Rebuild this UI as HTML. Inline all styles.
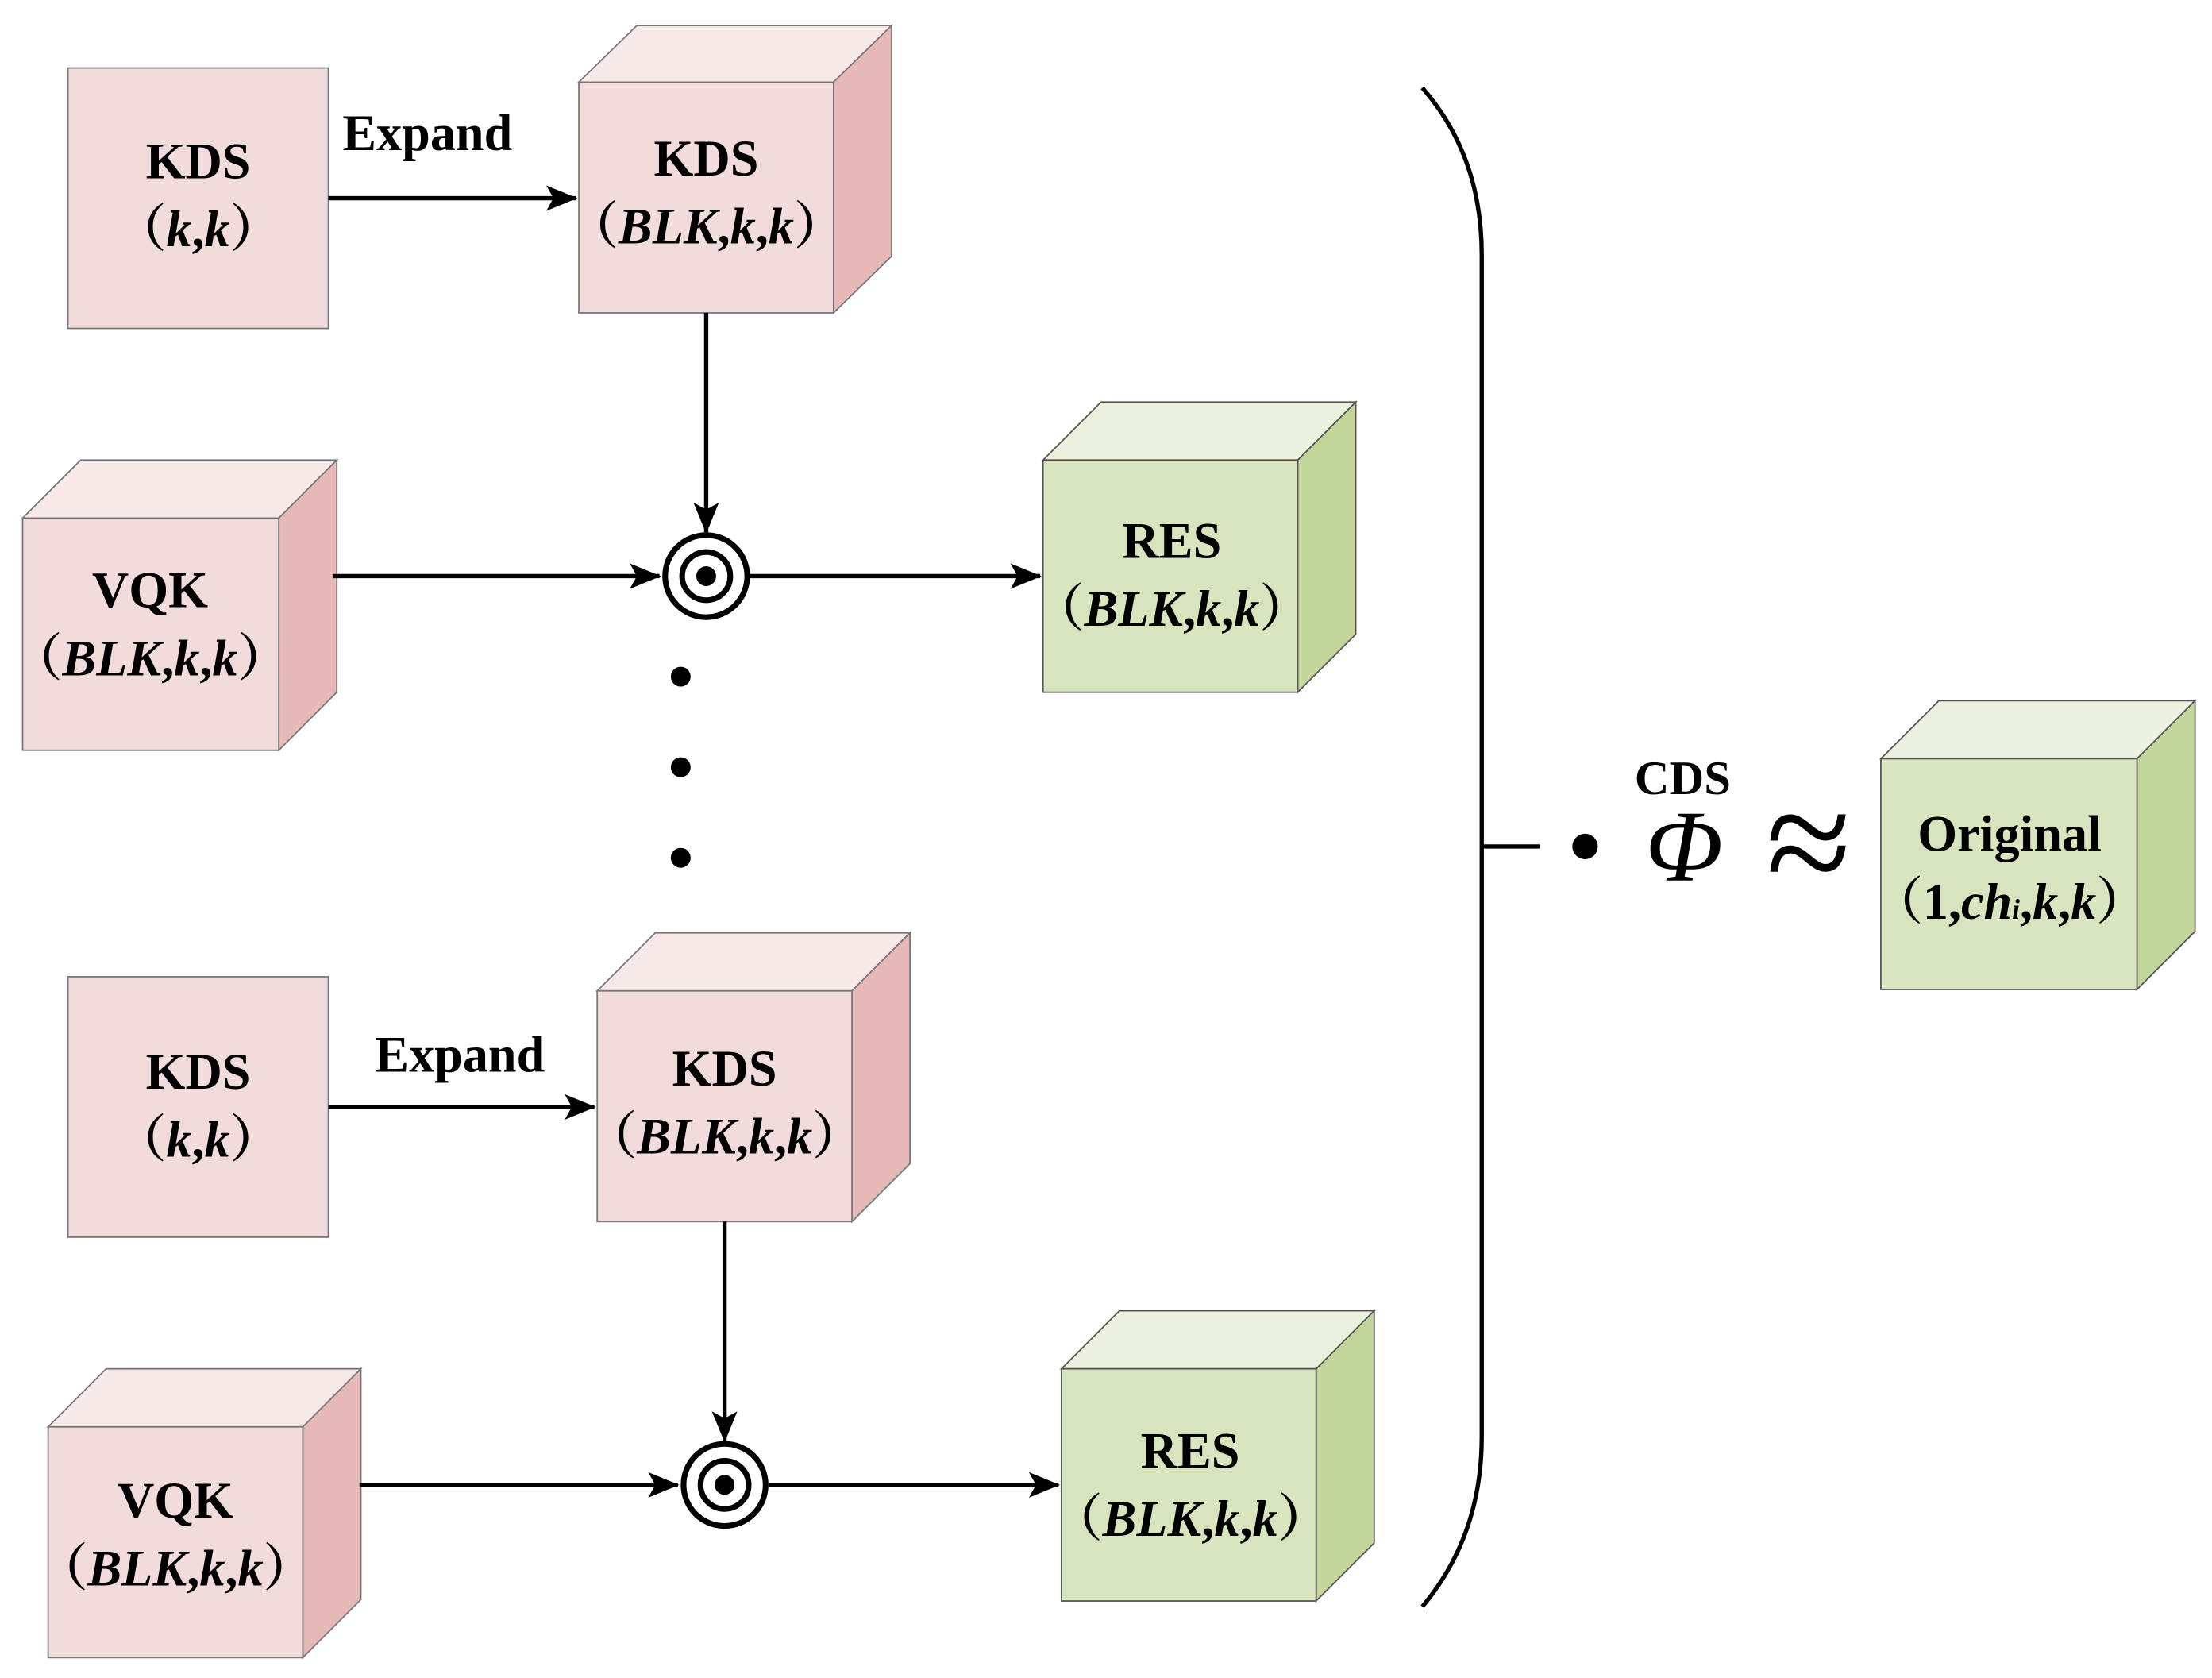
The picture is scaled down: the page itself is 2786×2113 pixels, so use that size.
<!DOCTYPE html>
<html><head><meta charset="utf-8"><style>
html,body{margin:0;padding:0;background:#fff;}
svg{display:block;}
text{font-family:"Liberation Serif","Noto Serif CJK SC",serif;font-weight:bold;font-size:36px;fill:#000;text-anchor:middle;}
.p{fill:#f2dcdb;stroke:#777;stroke-width:1}
.pt{fill:#f7e9e8;stroke:#777;stroke-width:1}
.ps{fill:#e6b8b7;stroke:#777;stroke-width:1}
.g{fill:#d7e4bd;stroke:#555;stroke-width:1}
.gt{fill:#ebf1de;stroke:#555;stroke-width:1}
.gs{fill:#c3d69b;stroke:#555;stroke-width:1}
.l{stroke:#000;stroke-width:3;fill:none}
</style></head><body>
<svg width="2786" height="2113" viewBox="0 0 1563 1185.4" preserveAspectRatio="none" xmlns="http://www.w3.org/2000/svg">
<defs>
<marker id="b" markerWidth="22" markerHeight="18" refX="21" refY="9" orient="auto" markerUnits="userSpaceOnUse"><path d="M0,0 L22,9 L0,18 L5,9 Z" fill="#000"/></marker>
</defs>

<rect class="p" x="48" y="48" width="184" height="184"/>
<text x="140" y="126">KDS</text>
<text x="140" y="174">（<tspan font-style="italic">k</tspan>,<tspan font-style="italic">k</tspan>）</text>
<text x="302" y="106">Expand</text>
<line class="l" x1="232" y1="140" x2="407" y2="140" marker-end="url(#b)"/>

<g>
<polygon class="pt" points="409,58 450,18 630,18 589,58"/>
<polygon class="ps" points="589,58 630,18 630,181 589,221"/>
<rect class="p" x="409" y="58" width="180" height="163"/>
<text x="499" y="124">KDS</text>
<text x="499" y="172">（<tspan font-style="italic">BLK</tspan>,<tspan font-style="italic">k</tspan>,<tspan font-style="italic">k</tspan>）</text>
</g>
<line class="l" x1="499" y1="221" x2="499" y2="376" marker-end="url(#b)"/>

<g>
<polygon class="pt" points="16,366 57,325 238,325 197,366"/>
<polygon class="ps" points="197,366 238,325 238,489 197,530"/>
<rect class="p" x="16" y="366" width="181" height="164"/>
<text x="106" y="429">VQK</text>
<text x="106" y="477">（<tspan font-style="italic">BLK</tspan>,<tspan font-style="italic">k</tspan>,<tspan font-style="italic">k</tspan>）</text>
</g>
<line class="l" x1="235" y1="407" x2="466" y2="407" marker-end="url(#b)"/>
<circle cx="499" cy="407" r="29" fill="#fff" stroke="#000" stroke-width="4"/>
<circle cx="499" cy="407" r="17" fill="none" stroke="#000" stroke-width="4"/>
<circle cx="499" cy="407" r="7" fill="#000"/>
<line class="l" x1="530" y1="407" x2="735" y2="407" marker-end="url(#b)"/>

<g>
<polygon class="gt" points="737,325 778,284 958,284 917,325"/>
<polygon class="gs" points="917,325 958,284 958,448 917,489"/>
<rect class="g" x="737" y="325" width="180" height="164"/>
<text x="828" y="394">RES</text>
<text x="828" y="442">（<tspan font-style="italic">BLK</tspan>,<tspan font-style="italic">k</tspan>,<tspan font-style="italic">k</tspan>）</text>
</g>

<circle cx="481" cy="478" r="7"/>
<circle cx="481" cy="542" r="7"/>
<circle cx="481" cy="606" r="7"/>

<rect class="p" x="48" y="690" width="184" height="184"/>
<text x="140" y="769">KDS</text>
<text x="140" y="817">（<tspan font-style="italic">k</tspan>,<tspan font-style="italic">k</tspan>）</text>
<text x="325" y="757">Expand</text>
<line class="l" x1="232" y1="782" x2="420" y2="782" marker-end="url(#b)"/>

<g>
<polygon class="pt" points="422,700 463,659 643,659 602,700"/>
<polygon class="ps" points="602,700 643,659 643,822 602,863"/>
<rect class="p" x="422" y="700" width="180" height="163"/>
<text x="512" y="767">KDS</text>
<text x="512" y="815">（<tspan font-style="italic">BLK</tspan>,<tspan font-style="italic">k</tspan>,<tspan font-style="italic">k</tspan>）</text>
</g>
<line class="l" x1="512" y1="863" x2="512" y2="1018" marker-end="url(#b)"/>

<g>
<polygon class="pt" points="34,1008 75,967 255,967 214,1008"/>
<polygon class="ps" points="214,1008 255,967 255,1130 214,1171"/>
<rect class="p" x="34" y="1008" width="180" height="163"/>
<text x="124" y="1072">VQK</text>
<text x="124" y="1120">（<tspan font-style="italic">BLK</tspan>,<tspan font-style="italic">k</tspan>,<tspan font-style="italic">k</tspan>）</text>
</g>
<line class="l" x1="254" y1="1049" x2="479" y2="1049" marker-end="url(#b)"/>
<circle cx="512" cy="1049" r="29" fill="#fff" stroke="#000" stroke-width="4"/>
<circle cx="512" cy="1049" r="17" fill="none" stroke="#000" stroke-width="4"/>
<circle cx="512" cy="1049" r="7" fill="#000"/>
<line class="l" x1="543" y1="1049" x2="748" y2="1049" marker-end="url(#b)"/>

<g>
<polygon class="gt" points="750,967 791,926 971,926 930,967"/>
<polygon class="gs" points="930,967 971,926 971,1090 930,1131"/>
<rect class="g" x="750" y="967" width="180" height="164"/>
<text x="841" y="1037">RES</text>
<text x="841" y="1085">（<tspan font-style="italic">BLK</tspan>,<tspan font-style="italic">k</tspan>,<tspan font-style="italic">k</tspan>）</text>
</g>

<path class="l" d="M1005,62 Q1047,110 1047,180 L1047,1015 Q1047,1085 1005,1135"/>
<line class="l" x1="1047" y1="598" x2="1088" y2="598"/>
<circle cx="1120" cy="598" r="9"/>
<text x="1189" y="561" style="font-size:34px">CDS</text>
<text x="1190" y="622" style="font-size:72px;font-weight:normal;font-style:italic">Φ</text>
<text x="1278" y="632" style="font-size:110px;font-weight:normal">≈</text>

<g>
<polygon class="gt" points="1329,536 1370,495 1551,495 1510,536"/>
<polygon class="gs" points="1510,536 1551,495 1551,658 1510,699"/>
<rect class="g" x="1329" y="536" width="181" height="163"/>
<text x="1420" y="601">Original</text>
<text x="1420" y="649">（1,<tspan font-style="italic">ch<tspan style="font-size:20px">i</tspan></tspan>,<tspan font-style="italic">k</tspan>,<tspan font-style="italic">k</tspan>）</text>
</g>
</svg>
</body></html>
